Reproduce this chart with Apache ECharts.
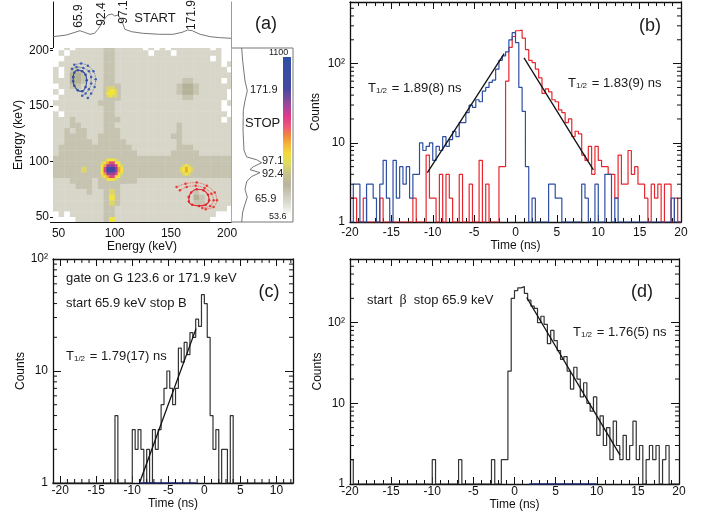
<!DOCTYPE html>
<html><head><meta charset="utf-8">
<script src="https://cdn.jsdelivr.net/npm/echarts@6/dist/echarts.min.js"></script>
<style>html,body{margin:0;padding:0;background:#fff}#c{width:710px;height:514px}</style>
</head><body><div id="c"></div>
<script>
// ================= DATA =================
// (a) gamma-gamma matrix, 5 keV cells, rows from y=200-205 (top) down to 45-50; columns from x=45-50 to 200-205
const heatX0 = 45, heatTopY0 = 200, heatBin = 5;
const heatRows = [
 "00101111 12211111 01010111 11110100",
 "01011111 12211111 10111011 11111100",
 "00111111 12211111 11111111 11110100",
 "01111111 12211111 11111111 11111101",
 "10122111 12211111 11111111 11111110",
 "10133211 12211111 11111111 11111111",
 "11133211 12211111 11111112 21111101",
 "01122111 12211111 11111123 32111111",
 "10111111 12211111 11111123 32111110",
 "01111111 12211111 11111112 21111110",
 "11111111 22211111 11111111 11111101",
 "01111111 12211111 11111111 11111100",
 "10111111 12211111 11111111 11111110",
 "11121111 12221111 11111111 11111101",
 "11122111 12211111 11111121 11111111",
 "11212211 12221111 11111121 11111111",
 "11222211 22221111 11111221 11111111",
 "11222221 22222111 11111121 11111111",
 "12222222 22222211 11111122 21111111",
 "12222222 22222221 11111222 22111111",
 "22222222 22222222 22222222 22222222",
 "22222222 22222222 22222222 22222222",
 "22222422 22222222 22222222 22222222",
 "22222222 22222222 22222222 22222222",
 "11122221 22222221 11111111 11111111",
 "11112221 22221111 11111111 11111111",
 "11111121 12421111 11111111 12111111",
 "11111111 12521111 11111111 13211111",
 "11111111 12421111 11111111 12211111",
 "11111111 12211111 11111111 11111110",
 "01011111 12211111 11111111 11111000",
 "00001111 12511111 11111111 11110000"
];
// finer 2.5 keV patches over the strongest spots
const fineBin = 2.5;
const blobX0 = 85, blobTopY0 = 102.5;
const blobRows = ["2222222222","2225554222","2456775522","2568887542","2579998652","2579998652","2568887542","2456775522","2225554222","2222222222"];
const spot160X0 = 90, spot160TopY0 = 167.5;
const spot160Rows = ["222222","244422","245542","255542","245442","222222"];
const spot93X0 = 157.5, spot93TopY0 = 100;
const spot93Rows = ["222222","222222","245422","456542","456542","245422"];
// projections (arbitrary count units)
const startProj = [[45,11.3],[57,13],[64.6,15.7],[69,17.3],[73,15.7],[78,13.7],[82,14.7],[85,18.7],[88.6,24.7],[91.3,29.7],[94,33],[97.5,34],[100,32],[103,33],[106,28],[109,18.7],[115,16.3],[125,14.7],[140,13.7],[152,13.7],[160,15.7],[165,18],[169,17.3],[176,13.7],[185,11.3],[194,10.3],[203.5,9.7]];
const stopProj = [[10.7,202],[11.7,190],[14,172.4],[16.3,163.5],[14,154.6],[12.3,145.8],[12,128],[13,110],[15.7,104],[25.7,101.5],[30.7,98.8],[22.3,95.2],[19,92.6],[29,89.9],[20.7,86.4],[15.7,82],[14,74.9],[16.3,67.8],[14,61.6],[11.7,54.5],[10.7,45.5]];
const startPeakLabels = ["65.9","92.4","97.1","171.9"];
const stopPeakLabels = ["171.9","97.1","92.4","65.9"];
const colorScaleLabels = ["1100","53.6"];
// gate contours (keV, keV)
const blueInner = [[63,176],[64,180],[67,182],[71,181],[74,178],[75,173],[74,167],[71,163],[67,164],[64,168],[63,172],[63,176]];
const blueMid = [[62,183],[66,185],[72,184],[77,181],[79,176],[79,170],[77,165],[74,161],[71,159]];
const blueOuter = [[64,187],[70,188],[76,186],[81,181],[83,174],[82,167],[79,161],[76,157]];
const redInner = [[166,68],[168,72],[173,75],[179,74],[183,70],[184,65],[181,61],[175,60],[169,61],[166,64],[166,68]];
const redMid = [[158,74],[164,77],[172,78],[180,76],[186,71],[188,65],[185,60],[178,58]];
const redOuter = [[155,77],[163,80],[173,81],[182,78],[189,72],[191,65],[188,59],[181,57]];

// (b) time spectra, 0.4 ns bins starting at -20 ns
const bStart = -20, bWidth = 0.4;
const bBlue = [1,3,3,1,1,3,3,2,1,3, 6,2,1,6,2,5,3,5,2,4, 4,10,8,9,10,6,9,8,12,9, 11,14,12,18,18,24,30,28,35,33,
 45,50,58,62,85,110,125,141,200,246, 184,50,25,5,1,2,1,1,1,1, 3,3,2,2,1,1,1,1,1,1, 3,2,1,1,3,1,1,4,4,1,
 2,1,1,1,1,1,1,1,1,1, 1,1,1,1,1,1,1,2,1,1];
const bRed = [2,2,1,1,2,1,1,1,1,2, 1,1,1,1,1,1,1,1,1,2, 1,1,1,7,2,2,1,4,1,4, 2,1,1,4,1,1,3,1,1,6,
 1,3,1,1,1,5,5,60,160,220, 260,265,210,150,110,103,85,66,42,48, 44,35,33,26,24,18,20,12,14,13, 7,6,9,4,9,6,5,5,4,4,
 2,7,3,3,8,4,5,3,3,2, 1,3,2,3,1,3,3,1,2,1];
const bFitBlue = [[-10.65,4.2],[-1.37,134]];
const bFitRed = [[1.03,118],[9.41,4.55]];

// (c) 0.4 ns bins starting at -21.2 ns
const cStart = -21.2, cWidth = 0.4;
const cCounts = [1,1,1,1,1,1,1,1,1,1, 1,1,1,1,1,1,1,1,1,1, 1,1,4,1,1,1,1,1,3,2, 3,2,1,2,1,3,2,3,5,7,
 10,7,5,7,16,12,18,14,22,20, 29,25,48,40,20,4,2,3,1,2, 2,1,4,1,1,1,1,1,1,1, 1,1,1,1,1,1,1,1,1,1, 1,1,1,1];
const cFit = [[-9.0,1.0],[-1.15,23.9]];
const cFitRange = [[-9.0,1],[-1.1,1]];

// (d) 0.4 ns bins starting at -20 ns
const dStart = -20, dWidth = 0.4;
const dCounts = [2, 1,1,1,1,1,1,1,1,1,1,1,1,1,1,1,1,1,1,1,1,1,1,1,1, 2, 1,1,1,1,1,1,1, 2, 1,1,1,1,1,1,1,1,1,
 2,1,1,2,2, 25,200,250,270,280,230,190,160,150,100, 120,95,55,80,60,45,35,38,25,15,
 28,20,12,18,10,8,12,4,7,3, 5,2,6,3,2,4,2,3,6,2, 3,1,2,3,2,3,1,2,3,1, 1,1];
const dFit = [[1.48,205],[12.83,2.28]];
const dFitRange = [[1.8,1],[10.0,1]];

// axis tick values
const logMinor = [2,3,4,5,6,7,8,9,20,30,40,50,60,70,80,90,200,300,400,500];
const cMinorX = [-19,-18,-17,-16,-14,-13,-12,-11,-9,-8,-7,-6,-4,-3,-2,-1,1,2,3,4,6,7,8,9,11,12];

// ================= BUILD =================
const FONT = 'Liberation Sans';
const AX = '#111';
const palette = ['#ffffff','#d7d6c9','#c6c4b0','#b5b29a','#dcd56a','#f2e53a','#f3a23c','#e6447e','#9a3f9c','#3b4ba6'];

const heatData = [];
function addCells(rows, x0, topY0, bin) {
  rows.forEach((row, r) => {
    const s = row.replace(/ /g, '');
    for (let c = 0; c < s.length; c++) heatData.push([x0 + c * bin, topY0 - r * bin, +s[c], bin]);
  });
}
addCells(heatRows, heatX0, heatTopY0, heatBin);
addCells(blobRows, blobX0, blobTopY0, fineBin);
addCells(spot160Rows, spot160X0, spot160TopY0, fineBin);
addCells(spot93Rows, spot93X0, spot93TopY0, fineBin);

function hist(start, width, counts) {
  const pts = counts.map((v, i) => [+(start + i * width).toFixed(3), v]);
  pts.push([+(start + counts.length * width).toFixed(3), counts[counts.length - 1]]);
  return pts;
}
function logLabel(v) {
  if (Math.abs(v - 1) < 1e-6) return '1';
  if (Math.abs(v / 10 - 1) < 1e-6) return '10';
  if (Math.abs(v / 100 - 1) < 1e-6) return '10²';
  return '';
}
const lab = (extra) => Object.assign({fontSize: 12, color: AX, fontFamily: FONT}, extra || {});
const nameStyle = {fontSize: 12, color: AX, fontFamily: FONT};

function frameX(gi, min, max, opts) {
  return Object.assign({gridIndex: gi, type: 'value', min, max, position: 'bottom',
    axisLine: {show: true, onZero: false, lineStyle: {color: AX, width: 1.3}},
    axisTick: {show: true, inside: true, length: 7, lineStyle: {color: AX}},
    splitLine: {show: false}}, opts);
}
function frameY(gi, min, max, opts) {
  return Object.assign({gridIndex: gi, type: 'log', logBase: 10, min, max, position: 'left',
    axisLine: {show: true, onZero: false, lineStyle: {color: AX, width: 1.3}},
    axisTick: {show: true, inside: true, length: 8, lineStyle: {color: AX}},
    splitLine: {show: false}}, opts);
}
function tickSeries(xi, yi, vals, dir, ref, len) {
  return {type: 'custom', xAxisIndex: xi, yAxisIndex: yi, silent: true, z: 6, clip: false,
    data: vals.map(v => dir === 'y' ? [ref, v] : [v, ref]),
    renderItem: (params, api) => {
      const cs = params.coordSys;
      const p = api.coord([api.value(0), api.value(1)]);
      const st = {stroke: AX, lineWidth: 1};
      if (dir === 'y') return {type: 'group', children: [
        {type: 'line', shape: {x1: cs.x, y1: p[1], x2: cs.x + len, y2: p[1]}, style: st},
        {type: 'line', shape: {x1: cs.x + cs.width - len, y1: p[1], x2: cs.x + cs.width, y2: p[1]}, style: st}]};
      return {type: 'group', children: [
        {type: 'line', shape: {x1: p[0], y1: cs.y + cs.height, x2: p[0], y2: cs.y + cs.height - len}, style: st},
        {type: 'line', shape: {x1: p[0], y1: cs.y, x2: p[0], y2: cs.y + len}, style: st}]};
    }};
}
function histSeries(xi, yi, data, color) {
  return {type: 'line', xAxisIndex: xi, yAxisIndex: yi, data, step: 'end', symbol: 'none', clip: true,
    lineStyle: {color, width: 1.2}, z: 3};
}
function fitSeries(xi, yi, data, color, w) {
  return {type: 'line', xAxisIndex: xi, yAxisIndex: yi, data, symbol: 'none', clip: true,
    lineStyle: {color, width: w || 1.3}, z: 4};
}
function contour(data, color, dotted) {
  return {type: 'line', xAxisIndex: 0, yAxisIndex: 0, data, smooth: 0.3, symbol: 'circle', symbolSize: 2.5, showSymbol: true,
    itemStyle: {color}, lineStyle: {color, width: dotted ? 0.8 : 1.1, type: dotted ? 'dotted' : 'solid'}, z: 4};
}
function txt(x, y, text, o) {
  return {type: 'text', x, y, z: 20, style: Object.assign({text, fill: '#1a1a1a', fontSize: 13, fontFamily: FONT, align: 'left', verticalAlign: 'middle'}, o || {})};
}
function thalf(x, y, val) {
  return {type: 'text', x, y, z: 20, style: {text: '{t|T}{s|1/2}{t| = ' + val + '}', align: 'left', verticalAlign: 'middle',
    rich: {t: {fontSize: 13, fontFamily: FONT, fill: '#1a1a1a'}, s: {fontSize: 8, fontFamily: FONT, fill: '#1a1a1a', verticalAlign: 'bottom', padding: [5, 1, 0, 0]}}}};
}

const option = {
  animation: false,
  backgroundColor: '#fff',
  grid: [
    {left: 53, top: 48, width: 178, height: 174},
    {left: 53, top: 2, width: 178, height: 46},
    {left: 231, top: 48, width: 62, height: 174, show: true, borderColor: '#777', borderWidth: 1, backgroundColor: 'transparent'},
    {left: 350, top: 2, width: 331, height: 220},
    {left: 53, top: 259, width: 240, height: 224},
    {left: 350, top: 259, width: 329, height: 225}
  ],
  xAxis: [
    {gridIndex: 0, type: 'value', min: 45, max: 203.5, splitNumber: 3, position: 'bottom',
      axisLine: {show: true, onZero: false, lineStyle: {color: AX, width: 1}}, axisTick: {show: false}, splitLine: {show: false},
      axisLabel: lab({margin: 6, formatter: v => (Math.abs(v % 50) < 1e-6 ? String(v) : '')}),
      name: 'Energy (keV)', nameLocation: 'middle', nameGap: 17, nameTextStyle: nameStyle},
    {gridIndex: 0, type: 'value', min: 45, max: 203.5, position: 'top', axisLine: {show: true, onZero: false, lineStyle: {color: '#c8c8c8'}},
      axisTick: {show: false}, axisLabel: {show: false}, splitLine: {show: false}},
    {gridIndex: 1, type: 'value', min: 45, max: 203.5, show: false},
    {gridIndex: 2, type: 'value', min: 0, max: 62, show: false},
    frameX(3, -20, 20, {interval: 5, minorTick: {show: true, splitNumber: 5, length: 4, lineStyle: {color: AX}},
      axisLabel: lab({margin: 5}), name: 'Time (ns)', nameLocation: 'middle', nameGap: 18, nameTextStyle: nameStyle}),
    frameX(3, -20, 20, {interval: 5, position: 'top', minorTick: {show: true, splitNumber: 5, length: 4, lineStyle: {color: AX}}, axisLabel: {show: false}}),
    frameX(4, -21, 12.3, {splitNumber: 7, axisLabel: lab({margin: 2, formatter: v => (Number.isInteger(v) && v % 5 === 0 ? String(v) : '')}),
      name: 'Time (ns)', nameLocation: 'middle', nameGap: 15, nameTextStyle: nameStyle}),
    frameX(4, -21, 12.3, {splitNumber: 7, position: 'top', axisLabel: {show: false}}),
    frameX(5, -20, 20, {interval: 5, minorTick: {show: true, splitNumber: 5, length: 4, lineStyle: {color: AX}},
      axisLabel: lab({margin: 2}), name: 'Time (ns)', nameLocation: 'middle', nameGap: 15, nameTextStyle: nameStyle}),
    frameX(5, -20, 20, {interval: 5, position: 'top', minorTick: {show: true, splitNumber: 5, length: 4, lineStyle: {color: AX}}, axisLabel: {show: false}})
  ],
  yAxis: [
    {gridIndex: 0, type: 'value', min: 45.5, max: 202, splitNumber: 3, position: 'left',
      axisLine: {show: true, onZero: false, lineStyle: {color: AX, width: 1}}, axisTick: {show: true, length: 3, lineStyle: {color: AX}},
      splitLine: {show: false}, axisLabel: lab({margin: 4, formatter: v => (Math.abs(v % 50) < 1e-6 ? String(v) : '')}),
      name: 'Energy (keV)', nameLocation: 'middle', nameGap: 27, nameTextStyle: nameStyle},
    {gridIndex: 0, type: 'value', min: 45.5, max: 202, position: 'right', axisLine: {show: true, onZero: false, lineStyle: {color: '#aaa'}},
      axisTick: {show: false}, axisLabel: {show: false}, splitLine: {show: false}},
    {gridIndex: 1, type: 'value', min: 0, max: 46, position: 'left', axisLine: {show: true, onZero: false, lineStyle: {color: AX}},
      axisTick: {show: false}, axisLabel: {show: false}, splitLine: {show: false}},
    {gridIndex: 1, type: 'value', min: 0, max: 46, position: 'right', axisLine: {show: true, onZero: false, lineStyle: {color: '#999'}},
      axisTick: {show: false}, axisLabel: {show: false}, splitLine: {show: false}},
    {gridIndex: 2, type: 'value', min: 45.5, max: 202, show: false},
    frameY(3, 1, 600, {axisLabel: lab({margin: 5, formatter: logLabel}), name: 'Counts', nameLocation: 'middle', nameGap: 28, nameTextStyle: nameStyle}),
    frameY(3, 1, 600, {position: 'right', axisLabel: {show: false}}),
    frameY(4, 1, 100, {axisLabel: lab({margin: 5, formatter: logLabel}), name: 'Counts', nameLocation: 'middle', nameGap: 24, nameTextStyle: nameStyle}),
    frameY(4, 1, 100, {position: 'right', axisLabel: {show: false}}),
    frameY(5, 1, 615, {axisLabel: lab({margin: 5, formatter: logLabel}), name: 'Counts', nameLocation: 'middle', nameGap: 26, nameTextStyle: nameStyle}),
    frameY(5, 1, 615, {position: 'right', axisLabel: {show: false}})
  ],
  series: [
    {type: 'custom', xAxisIndex: 0, yAxisIndex: 0, data: heatData, z: 1, silent: true,
      renderItem: (params, api) => {
        const x0 = api.value(0), y0 = api.value(1), lv = api.value(2), bin = api.value(3);
        const p1 = api.coord([x0, y0 + bin]);
        const p2 = api.coord([x0 + bin, y0]);
        const cs = params.coordSys;
        const rect = echarts.graphic.clipRectByRect(
          {x: p1[0], y: p1[1], width: p2[0] - p1[0] + 0.4, height: p2[1] - p1[1] + 0.4},
          {x: cs.x, y: cs.y, width: cs.width, height: cs.height});
        return rect && {type: 'rect', shape: rect, style: {fill: palette[lv]}};
      }},
    contour(blueInner, '#2f4c9e', false), contour(blueMid, '#3e5cb0', true), contour(blueOuter, '#3e5cb0', true),
    contour(redInner, '#e0262c', false), contour(redMid, '#ea3a3a', true), contour(redOuter, '#ea3a3a', true),
    {type: 'line', xAxisIndex: 2, yAxisIndex: 2, data: startProj, symbol: 'none', lineStyle: {color: '#666', width: 0.9}},
    {type: 'line', xAxisIndex: 3, yAxisIndex: 4, data: stopProj, symbol: 'none', lineStyle: {color: '#666', width: 0.9}},
    histSeries(4, 5, hist(bStart, bWidth, bRed), '#e8262d'),
    histSeries(4, 5, hist(bStart, bWidth, bBlue), '#2d4ea3'),
    fitSeries(4, 5, bFitBlue, '#111'), fitSeries(4, 5, bFitRed, '#111'),
    tickSeries(4, 5, logMinor.filter(v => v < 600), 'y', -20, 4),
    histSeries(6, 7, hist(cStart, cWidth, cCounts), '#333'),
    fitSeries(6, 7, cFit, '#111'),
    fitSeries(6, 7, cFitRange, '#1c2a7a', 1.6),
    tickSeries(6, 7, logMinor.filter(v => v < 100), 'y', -21, 4),
    tickSeries(6, 7, cMinorX, 'x', 1, 4),
    histSeries(8, 9, hist(dStart, dWidth, dCounts), '#333'),
    fitSeries(8, 9, dFit, '#111'),
    fitSeries(8, 9, dFitRange, '#1c2a7a', 1.6),
    tickSeries(8, 9, logMinor.filter(v => v < 615), 'y', -20, 4)
  ],
  graphic: [
    {type: 'rect', z: 10, shape: {x: 283, y: 57, width: 8, height: 156}, style: {fill: new echarts.graphic.LinearGradient(0, 0, 0, 1, [
      {offset: 0, color: '#2f4fa3'}, {offset: 0.2, color: '#4549a0'}, {offset: 0.27, color: '#7a4a9c'}, {offset: 0.33, color: '#b0459a'},
      {offset: 0.38, color: '#e2378c'}, {offset: 0.45, color: '#ee5c78'}, {offset: 0.5, color: '#f08440'}, {offset: 0.56, color: '#f6b53a'},
      {offset: 0.62, color: '#f2da3c'}, {offset: 0.68, color: '#e0dc5c'}, {offset: 0.74, color: '#c8c486'}, {offset: 0.82, color: '#b8b59e'},
      {offset: 0.88, color: '#cbc9b8'}, {offset: 0.94, color: '#deddd2'}, {offset: 1, color: '#f8f8f4'}])}},
    txt(155, 18, 'START', {align: 'center'}),
    txt(79, 16, startPeakLabels[0], {align: 'center', fontSize: 12}),
    txt(102, 14, startPeakLabels[1], {align: 'center', fontSize: 12}),
    txt(124, 12, startPeakLabels[2], {align: 'center', fontSize: 12}),
    txt(192, 15, startPeakLabels[3], {align: 'center', fontSize: 12}),
    txt(250, 90, stopPeakLabels[0], {fontSize: 11}),
    txt(245, 123, 'STOP', {fontSize: 13}),
    txt(262, 161, stopPeakLabels[1], {fontSize: 11}),
    txt(262, 174, stopPeakLabels[2], {fontSize: 11}),
    txt(255, 199, stopPeakLabels[3], {fontSize: 11}),
    txt(269, 53, colorScaleLabels[0], {fontSize: 9}),
    txt(269, 217, colorScaleLabels[1], {fontSize: 9}),
    txt(266, 24, '(a)', {align: 'center', fontSize: 18}),
    txt(650, 26, '(b)', {align: 'center', fontSize: 18}),
    txt(269, 292, '(c)', {align: 'center', fontSize: 18}),
    txt(642, 292, '(d)', {align: 'center', fontSize: 18}),
    thalf(368, 88, '1.89(8) ns'),
    thalf(568, 83, '1.83(9) ns'),
    txt(66, 278, 'gate on G 123.6 or 171.9 keV'),
    txt(66, 303, 'start 65.9 keV stop B'),
    thalf(66, 356, '1.79(17) ns'),
    {type: 'text', x: 367, y: 300, z: 20, style: {text: '{a|start  }{g|β}{a|  stop 65.9 keV}', align: 'left', verticalAlign: 'middle',
      rich: {a: {fontSize: 13, fontFamily: FONT, fill: '#1a1a1a'}, g: {fontSize: 14, fontFamily: 'Liberation Serif', fill: '#1a1a1a'}}}},
    thalf(573, 332, '1.76(5) ns')
  ]
};
// rotate the START peak labels (reading upward)
[2, 3, 4, 5].forEach(i => { option.graphic[i].rotation = Math.PI / 2; });

const chart = echarts.init(document.getElementById('c'), null, {renderer: 'canvas', width: 710, height: 514});
chart.setOption(option);
</script>
</body></html>
